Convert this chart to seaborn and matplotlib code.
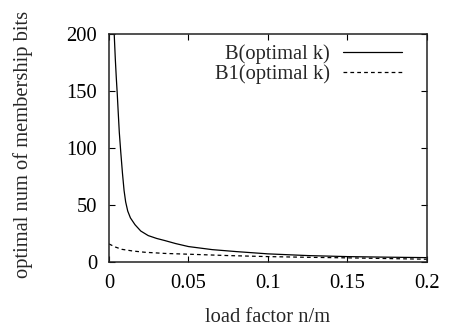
import pandas as pd
import matplotlib
matplotlib.use('Agg')
import matplotlib.pyplot as plt
import seaborn as sns

# values
b_load = [0.0030, 0.0033, 0.0040, 0.0046, 0.0052, 0.0058, 0.0065, 0.0074,
          0.0085, 0.0095, 0.0105, 0.0118, 0.0135, 0.0164, 0.020, 0.0247,
          0.030, 0.035, 0.042, 0.050, 0.065, 0.080, 0.100, 0.125, 0.150,
          0.175, 0.200]
b_bits = [225, 200, 178, 162, 148, 132, 114, 97,
          78, 63, 53, 45, 39, 33, 27.5, 23.5,
          21, 19.2, 16.5, 13.9, 11.2, 9.5, 7.5, 6.0, 5.1,
          4.6, 4.2]

b1_load = [0.0, 0.004, 0.008, 0.015, 0.0226, 0.035, 0.050, 0.075, 0.100,
           0.125, 0.150, 0.175, 0.200]
b1_bits = [16.2, 13.5, 11.5, 10.0, 8.9, 7.9, 7.2, 6.0, 5.1,
           4.5, 4.0, 3.4, 2.8]

x_ticks = [0, 0.05, 0.1, 0.15, 0.2]
x_tick_labels = ['0', '0.05', '0.1', '0.15', '0.2']
y_ticks = [0, 50, 100, 150, 200]

df_b = pd.DataFrame({'load': b_load, 'bits': b_bits})
df_b1 = pd.DataFrame({'load': b1_load, 'bits': b1_bits})

sns.set_style('ticks')
plt.rcParams['font.family'] = ['Liberation Serif', 'DejaVu Serif']
fs = 14.8

fig = plt.figure(figsize=(4.54, 3.26), dpi=100)
ax = fig.add_axes([0.240, 0.195, 0.7005, 0.7005])

sns.lineplot(data=df_b, x='load', y='bits', ax=ax, color='black', lw=0.9,
             label='B(optimal k)')
sns.lineplot(data=df_b1, x='load', y='bits', ax=ax, color='black', lw=0.9,
             dashes=(3, 2.5), label='B1(optimal k)')

ax.set_xlim(0, 0.2)
ax.set_ylim(0, 200)
ax.set_xticks(x_ticks)
ax.set_xticklabels(x_tick_labels)
ax.set_yticks(y_ticks)
ax.tick_params(direction='in', length=4.5, width=0.8, top=True, right=True,
               labelsize=fs, colors='black')
ax.tick_params(axis='y', pad=8.5)
ax.tick_params(axis='x', pad=8)
for s in ax.spines.values():
    s.set_linewidth(1.1)
    s.set_color('#222222')

ax.set_xlabel('load factor n/m', fontsize=fs, labelpad=11)
ax.set_ylabel('optimal num of membership bits', fontsize=fs)
ax.yaxis.set_label_coords(-0.238, 0.515)

leg = ax.legend(loc='upper right', bbox_to_anchor=(0.947, 0.99),
                frameon=False, markerfirst=False, fontsize=fs,
                handlelength=2.88, handletextpad=0.63, labelspacing=0.0,
                borderaxespad=0)

fig.savefig('out.png', dpi=100)
